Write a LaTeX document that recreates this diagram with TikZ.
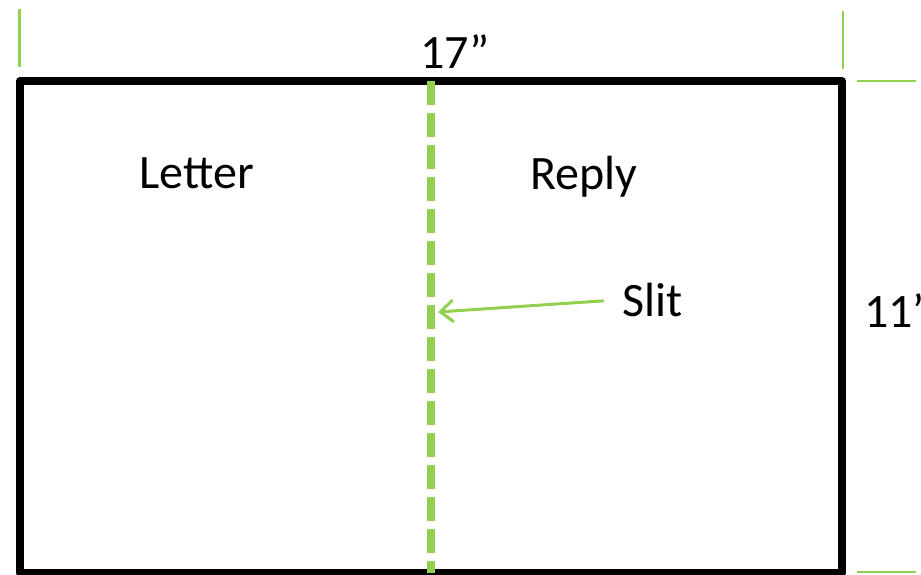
\documentclass[tikz,border=0pt]{standalone}
\usepackage{fontspec}
\setmainfont{Carlito}
\usetikzlibrary{arrows.meta}
\definecolor{slitgreen}{RGB}{146,208,80}
\begin{document}
\begin{tikzpicture}[x=1pt,y=-1pt,
  caption/.style={font=\fontsize{48}{54}\selectfont, inner sep=0pt, anchor=base},
  sheet/.style={draw=black, line width=8pt, line join=round},
  tick/.style={draw=slitgreen, line width=2.5pt},
  slitline/.style={draw=slitgreen, line width=8pt, dash pattern=on 24pt off 8pt},
  pointer/.style={draw=slitgreen, line width=3pt,
    -{Straight Barb[length=13pt,width=22pt,line width=3pt]}}]
\useasboundingbox (0,0) rectangle (921,574);

% the folded sheet
\draw[sheet] (20,81) rectangle (842,573);

% slit between the two halves
\coordinate (slittop) at (431,81);
\coordinate (slitbot) at (431,573);
\draw[slitline] (slittop) -- (slitbot);

% dimension ticks
\coordinate (wl1) at (19.5,9);   \coordinate (wl2) at (19.5,67);
\coordinate (wr1) at (843,11);   \coordinate (wr2) at (843,69);
\coordinate (ht1) at (857,81);   \coordinate (ht2) at (916,81);
\coordinate (hb1) at (857,572);  \coordinate (hb2) at (916,572);
\draw[tick] (wl1) -- (wl2);
\draw[tick] (wr1) -- (wr2);
\draw[tick] (ht1) -- (ht2);
\draw[tick] (hb1) -- (hb2);

% labels
\node[caption] (width)  at (455,68)  {17”};
\node[caption, anchor=base west] (height) at (864,327) {11’};
\node[caption] (letter) at (197,188) {Letter};
\node[caption] (reply)  at (584,189) {Reply};
\node[caption] (slit)   at (653,316) {Slit};

% pointer to the slit
\coordinate (cut) at (438,312);
\draw[pointer, shorten <=19pt] (slit.west) -- (cut);
\end{tikzpicture}
\end{document}
